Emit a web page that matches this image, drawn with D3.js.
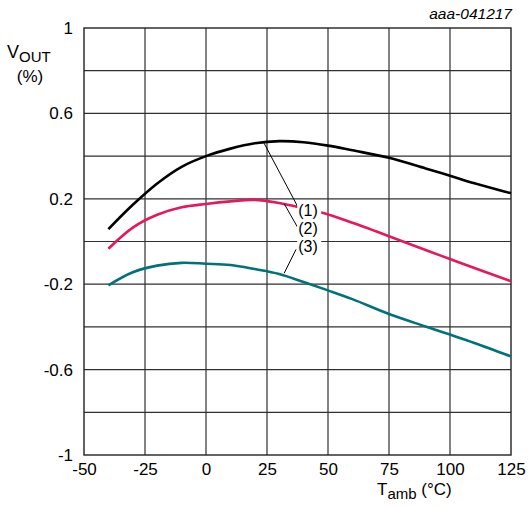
<!DOCTYPE html>
<html>
<head>
<meta charset="utf-8">
<script src="https://cdn.jsdelivr.net/npm/d3@7"></script>
<style>
  body { margin: 0; background: #fff; }
  text { font-family: "Liberation Sans", Arial, sans-serif; fill: #000; }
</style>
</head>
<body>
<div id="chart"></div>
<script>
// data
var temps = [-40, -30, -20, -10, 0, 10, 20, 30, 40, 50, 60, 75, 90, 100, 110, 125];
var vout1 = [0.058, 0.172, 0.272, 0.35, 0.40, 0.435, 0.46, 0.47, 0.465, 0.449, 0.427, 0.392, 0.342, 0.308, 0.273, 0.226];
var vout2 = [-0.034, 0.065, 0.125, 0.16, 0.176, 0.188, 0.195, 0.18, 0.155, 0.127, 0.088, 0.025, -0.04, -0.082, -0.124, -0.186];
var vout3 = [-0.205, -0.144, -0.113, -0.10, -0.104, -0.11, -0.129, -0.152, -0.19, -0.229, -0.27, -0.34, -0.398, -0.436, -0.475, -0.538];
var xTicks = [-50, -25, 0, 25, 50, 75, 100, 125];
var yTicks = [1, 0.6, 0.2, -0.2, -0.6, -1];
var yGrid = [0.8, 0.6, 0.4, 0.2, 0, -0.2, -0.4, -0.6, -0.8];
var seriesLabels = ["(1)", "(2)", "(3)"];

var svgWidth = 528, svgHeight = 506;
var margin = { top: 28, left: 84, right: 17, bottom: 51 };
var chartWidth = svgWidth - margin.left - margin.right;
var chartHeight = svgHeight - margin.top - margin.bottom;

var svg = d3.select("#chart").append("svg")
  .attr("width", svgWidth)
  .attr("height", svgHeight);

var chartGroup = svg.append("g")
  .attr("transform", `translate(${margin.left}, ${margin.top})`);

var xScale = d3.scaleLinear().domain([-50, 125]).range([0, chartWidth]);
var yScale = d3.scaleLinear().domain([-1, 1]).range([chartHeight, 0]);

// grid
chartGroup.selectAll(".vgrid")
  .data(xTicks.slice(1, -1))
  .enter().append("line")
  .attr("x1", d => xScale(d)).attr("x2", d => xScale(d))
  .attr("y1", 0).attr("y2", chartHeight)
  .attr("stroke", "#303030").attr("stroke-width", 1.2);

chartGroup.selectAll(".hgrid")
  .data(yGrid)
  .enter().append("line")
  .attr("x1", 0).attr("x2", chartWidth)
  .attr("y1", d => yScale(d)).attr("y2", d => yScale(d))
  .attr("stroke", "#303030").attr("stroke-width", 1.2);

chartGroup.append("rect")
  .attr("width", chartWidth).attr("height", chartHeight)
  .attr("fill", "none").attr("stroke", "#222").attr("stroke-width", 1.4);

// axes (labels only), plain hyphen for negatives
var fmt = d => (d < 0 ? "-" : "") + (Number.isInteger(d) ? String(Math.abs(d)) : Math.abs(d).toFixed(1));
var xAxis = d3.axisBottom(xScale).tickValues(xTicks).tickSize(0).tickPadding(8).tickFormat(fmt);
var yAxis = d3.axisLeft(yScale).tickValues(yTicks).tickSize(0).tickPadding(11).tickFormat(fmt);

var gx = chartGroup.append("g").attr("transform", `translate(0, ${chartHeight})`).call(xAxis);
var gy = chartGroup.append("g").call(yAxis);
[gx, gy].forEach(function(g) {
  g.select(".domain").remove();
  g.selectAll("text").style("font-size", "17px").style("font-family", "Liberation Sans, Arial, sans-serif");
});

// curves
var line = d3.line()
  .x(d => xScale(d[0]))
  .y(d => yScale(d[1]))
  .curve(d3.curveCatmullRom);

var series = [
  { values: vout1, color: "#000000" },
  { values: vout2, color: "#e5185d" },
  { values: vout3, color: "#00727a" }
];

chartGroup.selectAll(".curve")
  .data(series)
  .enter().append("path")
  .attr("d", s => line(temps.map((t, i) => [t, s.values[i]])))
  .attr("fill", "none")
  .attr("stroke", s => s.color)
  .attr("stroke-width", 2.6);

// callout labels with leader lines
var labelX = xScale(37.8);
var labelY = [yScale(0.119), yScale(0.035), yScale(-0.049)];
var leaders = [
  [[23.5, 0.467], [37.6, 0.163]],
  [[32.1, 0.176], [37.4, 0.069]],
  [[36.9, -0.037], [32.0, -0.149]]
];

chartGroup.selectAll(".leader")
  .data(leaders)
  .enter().append("line")
  .attr("x1", d => xScale(d[0][0])).attr("y1", d => yScale(d[0][1]))
  .attr("x2", d => xScale(d[1][0])).attr("y2", d => yScale(d[1][1]))
  .attr("stroke", "#000").attr("stroke-width", 1);

var labels = chartGroup.selectAll(".lab")
  .data(seriesLabels)
  .enter().append("g");

labels.append("rect")
  .attr("x", labelX - 1).attr("y", (d, i) => labelY[i] - 13)
  .attr("width", 24).attr("height", 16)
  .attr("fill", "#fff");

labels.append("text")
  .attr("x", labelX).attr("y", (d, i) => labelY[i])
  .style("font-size", "16px")
  .text(d => d);

// axis titles
var yTitle = svg.append("text").attr("x", 7).attr("y", 58).style("font-size", "18px");
yTitle.append("tspan").text("V");
yTitle.append("tspan").attr("dy", 4).style("font-size", "15px").text("OUT");
svg.append("text").attr("x", 30).attr("y", 82).attr("text-anchor", "middle")
  .style("font-size", "17px").text("(%)");

var xTitle = svg.append("text").attr("x", 377).attr("y", 495).style("font-size", "17px");
xTitle.append("tspan").text("T");
xTitle.append("tspan").attr("dy", 4).style("font-size", "15px").text("amb");
xTitle.append("tspan").attr("dy", -4).text(" (°C)");

svg.append("text").attr("x", 512).attr("y", 19).attr("text-anchor", "end")
  .style("font-size", "15.5px").style("font-style", "italic").text("aaa-041217");
</script>
</body>
</html>
